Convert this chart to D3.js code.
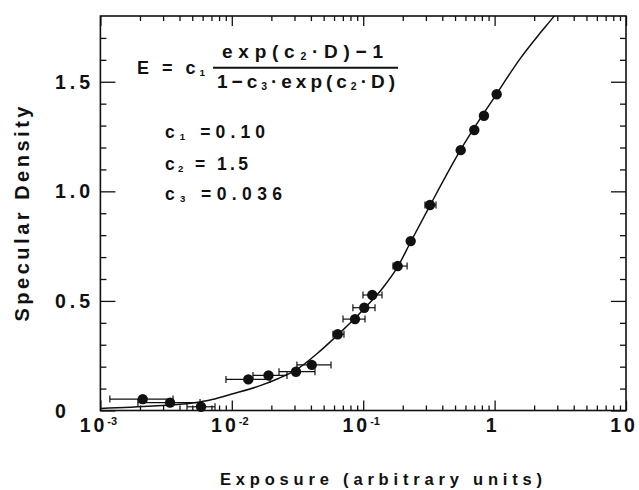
<!DOCTYPE html>
<html>
<head>
<meta charset="utf-8">
<script src="https://cdn.jsdelivr.net/npm/d3@7"></script>
<style>
  body { margin: 0; background: #fff; }
  svg text { font-family: "Liberation Sans", Arial, sans-serif; font-weight: bold; fill: #111; }
</style>
</head>
<body>
<svg id="chart" width="639" height="490"></svg>
<script>
// measured points (exposure, specular density) + horizontal error bars
const exposure     = [0.0021, 0.00339, 0.00583, 0.01335, 0.01902, 0.0308, 0.0406, 0.0640, 0.0866, 0.1019, 0.1172, 0.1830, 0.2299, 0.3222, 0.552, 0.7006, 0.830, 1.037];
const density      = [0.052, 0.036, 0.017, 0.142, 0.160, 0.177, 0.208, 0.348, 0.417, 0.469, 0.527, 0.659, 0.773, 0.9375, 1.188, 1.280, 1.345, 1.443];
const exposureLow  = [0.00118, 0.00193, 0.00456, 0.00903, 0.01449, 0.02286, 0.0313, 0.0589, 0.0702, 0.0835, 0.0996, 0.1687, null, 0.2952, null, null, null, null];
const exposureHigh = [0.00357, 0.00573, 0.00745, 0.01954, 0.0263, 0.04295, 0.0569, 0.0714, 0.1032, 0.1230, 0.1390, 0.2158, null, 0.358, null, null, null, null];

// fitted curve
const fitExposure = [0.001, 0.00251, 0.00501, 0.00708, 0.01, 0.01585, 0.02239, 0.0308, 0.04467, 0.064, 0.1, 0.1413, 0.1828, 0.2301, 0.3221, 0.552, 1.037, 1.585, 2.138, 2.8, 3.31];
const fitDensity  = [0.009, 0.02, 0.034, 0.05, 0.075, 0.11, 0.145, 0.185, 0.26, 0.345, 0.46, 0.56, 0.655, 0.77, 0.935, 1.19, 1.445, 1.61, 1.71, 1.795, 1.85];

// tick labels
const xMajor = [1e-3, 1e-2, 1e-1, 1, 10];
const xLabels = [['10', '-3'], ['10', '-2'], ['10', '-1'], ['1', ''], ['10', '']];
const yMajor = [0, 0.5, 1.0, 1.5];
const yLabels = ['0', '0.5', '1.0', '1.5'];
const yMinor = [0.1, 0.2, 0.3, 0.4, 0.6, 0.7, 0.8, 0.9, 1.1, 1.2, 1.3, 1.4, 1.6, 1.7];

const svg = d3.select('#chart');
const L = 100.4, R = 626, T = 16, B = 410.5;

const x = d3.scaleLog().domain([1e-3, 10]).range([L, R]);
const y = d3.scaleLinear().domain([0, 1.8]).range([B, T]);
const xMinor = x.ticks().filter(v => !xMajor.some(m => Math.abs(m - v) / m < 1e-6));

// inward ticks on all four sides
function ticks(axis, vals, len, tr) {
  svg.append('g').attr('transform', tr)
    .call(axis.tickValues(vals).tickSize(-len).tickFormat(''))
    .call(g => g.select('.domain').remove())
    .selectAll('line').attr('stroke', '#111').attr('stroke-width', 1.3);
}
ticks(d3.axisBottom(x), xMinor, 5, `translate(0,${B})`);
ticks(d3.axisBottom(x), xMajor, 10, `translate(0,${B})`);
ticks(d3.axisTop(x), xMinor, 5, `translate(0,${T})`);
ticks(d3.axisTop(x), xMajor, 10, `translate(0,${T})`);
ticks(d3.axisLeft(y), yMinor, 6, `translate(${L},0)`);
ticks(d3.axisLeft(y), yMajor, 15, `translate(${L},0)`);
ticks(d3.axisRight(y), yMinor, 6, `translate(${R},0)`);
ticks(d3.axisRight(y), yMajor, 15, `translate(${R},0)`);

svg.append('rect')
  .attr('x', L).attr('y', T).attr('width', R - L).attr('height', B - T)
  .attr('fill', 'none').attr('stroke', '#111').attr('stroke-width', 1.6);

// tick labels
yMajor.forEach((v, i) => {
  svg.append('text').attr('x', 55).attr('y', y(v)).attr('dy', '0.36em')
    .attr('font-size', 19.5).attr('letter-spacing', 4).text(yLabels[i]);
});
xMajor.forEach((v, i) => {
  const t = svg.append('text').attr('x', x(v) - 2).attr('y', 432)
    .attr('text-anchor', 'middle').attr('font-size', 19.5).attr('letter-spacing', 3);
  t.append('tspan').text(xLabels[i][0]);
  if (xLabels[i][1]) {
    t.append('tspan').attr('font-size', 11).attr('dy', -7).attr('letter-spacing', 0).text(xLabels[i][1]);
  }
});

// axis titles
svg.append('text').attr('x', 381).attr('y', 485).attr('text-anchor', 'middle')
  .attr('font-size', 16.5).attr('textLength', 322).attr('lengthAdjust', 'spacing')
  .text('Exposure (arbitrary units)');
svg.append('text').attr('transform', 'translate(29,214) rotate(-90)').attr('text-anchor', 'middle')
  .attr('font-size', 20).attr('textLength', 215).attr('lengthAdjust', 'spacing')
  .text('Specular Density');

// fitted curve
svg.append('clipPath').attr('id', 'plot-clip').append('rect')
  .attr('x', L).attr('y', T).attr('width', R - L).attr('height', B - T);
const fit = fitExposure.map((e, i) => [e, fitDensity[i]]);
svg.append('path').datum(fit)
  .attr('clip-path', 'url(#plot-clip)')
  .attr('fill', 'none').attr('stroke', '#111').attr('stroke-width', 1.5)
  .attr('d', d3.line().x(d => x(d[0])).y(d => y(d[1])).curve(d3.curveMonotoneX));

// error bars + markers
const pts = exposure.map((e, i) => ({ e, d: density[i], lo: exposureLow[i], hi: exposureHigh[i] }));
const eb = svg.append('g').attr('stroke', '#111').attr('stroke-width', 1.2);
pts.filter(p => p.lo != null).forEach(p => {
  const yy = y(p.d);
  eb.append('line').attr('x1', x(p.lo)).attr('x2', x(p.hi)).attr('y1', yy).attr('y2', yy);
  eb.append('line').attr('x1', x(p.lo)).attr('x2', x(p.lo)).attr('y1', yy - 3.5).attr('y2', yy + 3.5);
  eb.append('line').attr('x1', x(p.hi)).attr('x2', x(p.hi)).attr('y1', yy - 3.5).attr('y2', yy + 3.5);
});
svg.append('g').selectAll('circle').data(pts).join('circle')
  .attr('cx', p => x(p.e)).attr('cy', p => y(p.d)).attr('r', 5.2).attr('fill', '#111');

// formula: strings are normal text, {sub} are subscripts
function rich(px, py, size, len, parts) {
  const t = svg.append('text').attr('x', px).attr('y', py).attr('font-size', size)
    .attr('textLength', len).attr('lengthAdjust', 'spacing');
  let lowered = false;
  parts.forEach(p => {
    if (typeof p === 'string') {
      t.append('tspan').attr('dy', lowered ? -2 : 0).text(p);
      lowered = false;
    } else {
      t.append('tspan').attr('font-size', size * 0.55).attr('dy', 2).text(p.sub);
      lowered = true;
    }
  });
  return t;
}
rich(137, 74, 18, 68, ['E = c', { sub: '1' }]);
rich(222, 58, 19, 161, ['exp(c', { sub: '2' }, '\u00b7D)\u22121']);
rich(217, 88, 19, 178, ['1\u2212c', { sub: '3' }, '\u00b7exp(c', { sub: '2' }, '\u00b7D)']);
svg.append('line').attr('x1', 213).attr('x2', 398).attr('y1', 67.7).attr('y2', 67.7)
  .attr('stroke', '#111').attr('stroke-width', 2);

rich(165, 138, 17.5, 100, ['c', { sub: '1' }, ' =0.10']);
rich(165, 170, 17.5, 83, ['c', { sub: '2' }, ' = 1.5']);
rich(165, 200, 17.5, 117, ['c', { sub: '3' }, ' =0.036']);
</script>
</body>
</html>
